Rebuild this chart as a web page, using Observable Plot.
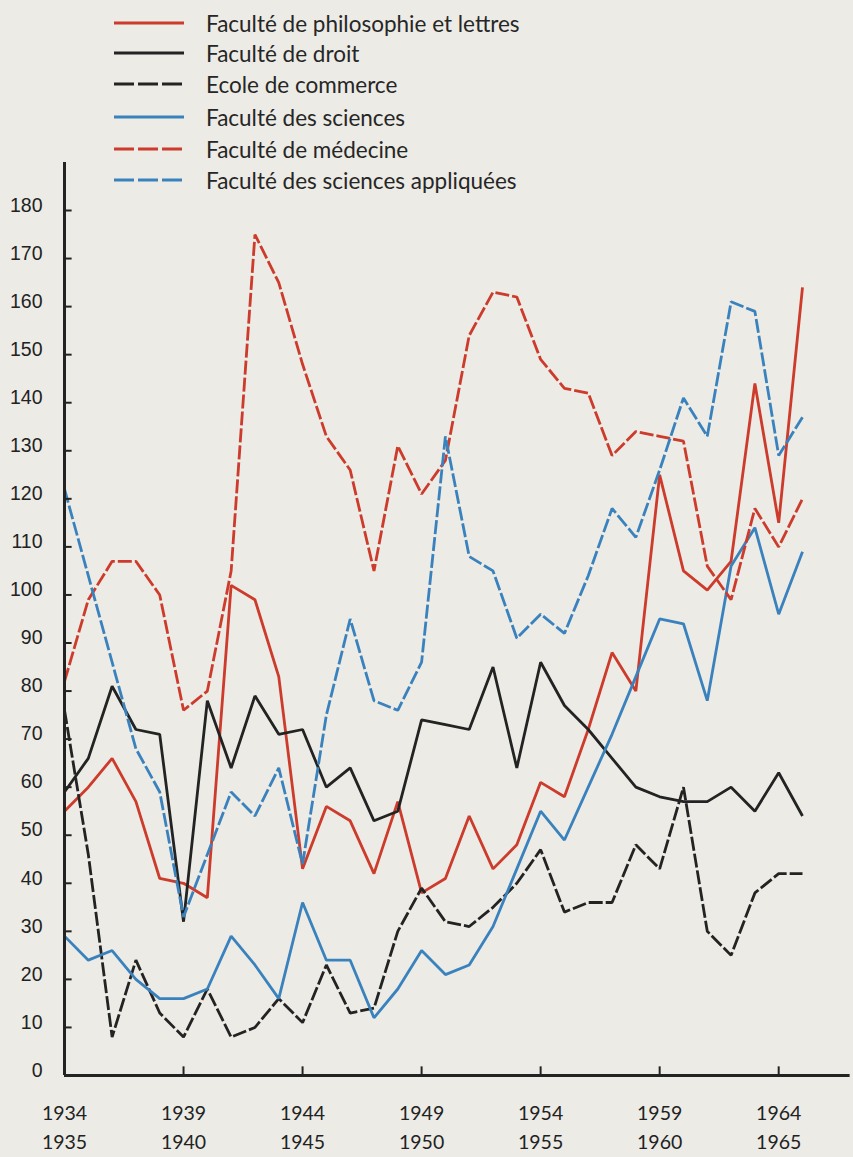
<!DOCTYPE html>
<html>
<head>
<meta charset="utf-8">
<script src="https://cdn.jsdelivr.net/npm/d3@7"></script>
<script src="https://cdn.jsdelivr.net/npm/@observablehq/plot@0.6"></script>
<style>
  html, body { margin: 0; padding: 0; background: #ecebe5; }
  #wrap { position: relative; width: 853px; height: 1157px; overflow: hidden; }
  #legend { position: absolute; left: 0; top: 0; font-family: Lato, "Open Sans", sans-serif; font-size: 22.5px; color: #262626; }
  .row { position: absolute; left: 112px; white-space: nowrap; display: flex; align-items: center; height: 30px; }
  .row svg { margin-right: 20px; }
</style>
</head>
<body>
<div id="wrap"><div id="legend"></div></div>
<script>
// Academic years (start year): 1934-35 ... 1965-66
const years = [1934,1935,1936,1937,1938,1939,1940,1941,1942,1943,1944,1945,1946,1947,1948,1949,
               1950,1951,1952,1953,1954,1955,1956,1957,1958,1959,1960,1961,1962,1963,1964,1965];

const seriesNames = [
  "Faculté de philosophie et lettres",
  "Faculté de droit",
  "Ecole de commerce",
  "Faculté des sciences",
  "Faculté de médecine",
  "Faculté des sciences appliquées"
];

const philo = [55,60,66,57,41,40,37,102,99,83,43,56,53,42,57,38,
               41,54,43,48,61,58,72,88,80,125,105,101,107,144,115,164];
const droit = [59,66,81,72,71,32,78,64,79,71,72,60,64,53,55,74,
               73,72,85,64,86,77,72,66,60,58,57,57,60,55,63,54];
const commerce = [76,46,8,24,13,8,18,8,10,16,11,23,13,14,30,39,
                  32,31,35,40,47,34,36,36,48,43,60,30,25,38,42,42];
const sciences = [29,24,26,20,16,16,18,29,23,16,36,24,24,12,18,26,
                  21,23,31,43,55,49,60,71,83,95,94,78,106,114,96,109];
const medecine = [82,99,107,107,100,76,80,105,175,165,148,133,126,105,131,121,
                  128,154,163,162,149,143,142,129,134,133,132,106,99,118,110,120];
const appliquees = [122,104,86,68,59,33,46,59,54,64,44,75,95,78,76,86,
                    133,108,105,91,96,92,104,118,112,126,141,133,161,159,129,137];

const yTicks = [0,10,20,30,40,50,60,70,80,90,100,110,120,130,140,150,160,170,180];
const xTicks = [1934,1939,1944,1949,1954,1959,1964];
const xTickLabels = ["1934\n1935","1939\n1940","1944\n1945","1949\n1950","1954\n1955","1959\n1960","1964\n1965"];

const RED = "#cc3b2b", BLACK = "#232323", BLUE = "#3a82bd";
const styles = [
  {color: RED, dash: null},
  {color: BLACK, dash: null},
  {color: BLACK, dash: "14,3"},
  {color: BLUE, dash: null},
  {color: RED, dash: "14,3"},
  {color: BLUE, dash: "14,3"}
];
const allValues = [philo, droit, commerce, sciences, medecine, appliquees];

const lineMarks = allValues.map((vals, k) =>
  Plot.lineY(years.map((yr, i) => ({year: yr, v: vals[i]})), {
    x: "year", y: "v",
    stroke: styles[k].color, strokeWidth: 2.8,
    strokeDasharray: styles[k].dash ?? undefined,
    strokeLinejoin: "miter", strokeLinecap: "butt"
  })
);

const chart = Plot.plot({
  width: 853,
  height: 1157,
  marginLeft: 0, marginRight: 0, marginTop: 0, marginBottom: 0,
  style: {background: "transparent", overflow: "visible"},
  x: {domain: [1934, 1965], range: [64, 802], axis: null},
  y: {domain: [0, 180], range: [1075, 210], axis: null},
  marks: [
    ...lineMarks,
    // axes
    Plot.ruleX([1934], {y1: 0, y2: 190, stroke: BLACK, strokeWidth: 3}),
    Plot.ruleY([0], {x1: 1934, x2: 1967, stroke: BLACK, strokeWidth: 3}),
    Plot.ruleY(yTicks.filter(d => d > 0), {x1: 1934, x2: 1934.32, stroke: BLACK, strokeWidth: 2}),
    Plot.ruleX(xTicks.filter(d => d > 1934), {y1: 0, y2: 1.8, stroke: BLACK, strokeWidth: 2}),
    Plot.text(yTicks, {x: () => 1934, y: d => d, text: d => String(d), dx: -22, dy: -5,
      textAnchor: "end", fontSize: 19.5, fontFamily: "Liberation Sans, Arial, sans-serif", fill: "#222"}),
    Plot.text(xTicks, {x: d => d, y: () => 0, text: (d, i) => xTickLabels[i], dy: 50,
      lineAnchor: "middle", lineHeight: 1.5, fontSize: 19.5, fontFamily: "Lato, sans-serif", fill: "#222"})
  ]
});
document.getElementById("wrap").prepend(chart);
chart.style.position = "absolute";
chart.style.left = "0";
chart.style.top = "0";

// Legend
const legend = document.getElementById("legend");
const rowCenters = [23, 53, 84, 117, 149, 180];
seriesNames.forEach((name, k) => {
  const row = document.createElement("div");
  row.className = "row";
  row.style.top = (rowCenters[k] - 15) + "px";
  const ns = "http://www.w3.org/2000/svg";
  const sw = document.createElementNS(ns, "svg");
  sw.setAttribute("width", "74");
  sw.setAttribute("height", "8");
  const ln = document.createElementNS(ns, "line");
  ln.setAttribute("x1", "2"); ln.setAttribute("x2", "72");
  ln.setAttribute("y1", "4"); ln.setAttribute("y2", "4");
  ln.setAttribute("stroke", styles[k].color);
  ln.setAttribute("stroke-width", "3.2");
  if (styles[k].dash) ln.setAttribute("stroke-dasharray", "20,4");
  sw.appendChild(ln);
  row.appendChild(sw);
  const t = document.createElement("span");
  t.textContent = name;
  row.appendChild(t);
  legend.appendChild(row);
});
</script>
</body>
</html>
